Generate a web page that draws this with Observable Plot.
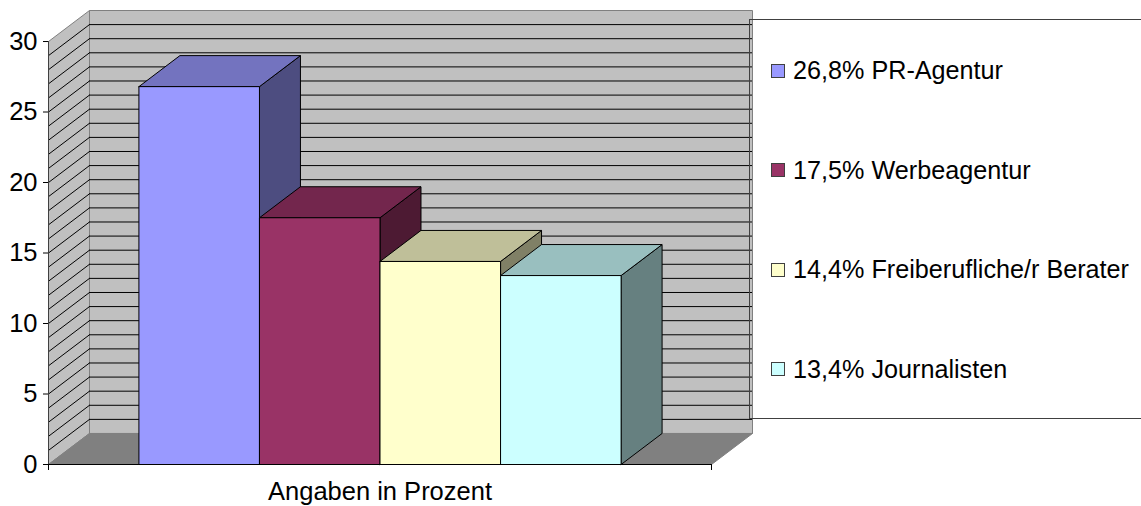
<!DOCTYPE html>
<html>
<head>
<meta charset="utf-8">
<script src="https://cdn.jsdelivr.net/npm/d3@7"></script>
<script src="https://cdn.jsdelivr.net/npm/@observablehq/plot@0.6"></script>
<style>
  html, body { margin: 0; padding: 0; background: #fff; }
  #wrap { position: relative; width: 1141px; height: 506px; overflow: hidden; font-family: "Liberation Sans", Arial, sans-serif; }
  #legend { position: absolute; left: 749px; top: 19px; width: 420px; height: 398px; border: 1px solid #404040; z-index: 2;
            background: linear-gradient(to right, rgba(255,255,255,0) 3px, #fff 3px);
            display: flex; flex-direction: column; justify-content: space-around; box-sizing: content-box; }
  .item { display: flex; align-items: center; font-size: 25.2px; color: #000; padding-left: 21px; height: 30px; margin-top: 2px; }
  .sw { width: 12px; height: 12px; border: 1px solid #404040; margin-right: 8px; flex: none; }
  #chart { position: absolute; left: 0; top: 0; z-index: 1; }
</style>
</head>
<body>
<div id="wrap"><div id="chart"></div><div id="legend"></div></div>
<script>
// ---- data ----
const categories = ["PR-Agentur", "Werbeagentur", "Freiberufliche/r Berater", "Journalisten"];
const values = [26.8, 17.5, 14.4, 13.4];
const colors = ["#9999FF", "#993366", "#FFFFCC", "#CCFFFF"];
const yTicks = [0, 5, 10, 15, 20, 25, 30];
const gridValues = d3.range(1, 30);
const groupLabel = "Angaben in Prozent";

// ---- 3D projection parameters (Excel-like oblique view) ----
const yMax = 30;
const depthX = 0.34;     // depth offset in x units (bar widths)
const depthY = 2.2;      // depth offset in y units
const gap = 0.75;        // half of 150% gap width
const nBars = values.length;
const floorW = nBars + 2 * gap;

function shade(c, k) {
  const r = d3.rgb(c);
  return d3.rgb(r.r * k, r.g * k, r.b * k).formatHex();
}
const polys = [];
function poly(layer, id, pts, fill, stroke) {
  pts.concat([pts[0]]).forEach(([x, y]) => polys.push({layer, id, x, y, fill, stroke}));
}
// walls & floor
poly("wall", "back", [[depthX, depthY], [floorW + depthX, depthY], [floorW + depthX, yMax + depthY], [depthX, yMax + depthY]], "#C0C0C0", "#808080");
poly("wall", "side", [[0, 0], [depthX, depthY], [depthX, yMax + depthY], [0, yMax]], "#C0C0C0", "#808080");
poly("floor", "floor", [[0, 0], [floorW, 0], [floorW + depthX, depthY], [depthX, depthY]], "#808080", "#808080");
// bars
values.forEach((v, i) => {
  const x0 = gap + i, x1 = gap + i + 1, c = colors[i];
  poly("bar", "side" + i, [[x1, 0], [x1 + depthX, depthY], [x1 + depthX, v + depthY], [x1, v]], shade(c, 0.5), "#000");
  poly("bar", "top" + i, [[x0, v], [x1, v], [x1 + depthX, v + depthY], [x0 + depthX, v + depthY]], shade(c, 0.75), "#000");
  poly("bar", "front" + i, [[x0, 0], [x1, 0], [x1, v], [x0, v]], c, "#000");
});

const FONT = 25.5;
const chart = Plot.plot({
  width: 1141, height: 506,
  marginLeft: 48, marginRight: 389, marginTop: 10, marginBottom: 42,
  x: {domain: [0, floorW + depthX], axis: null},
  y: {domain: [0, yMax + depthY], axis: null},
  color: {type: "identity"},
  style: {fontFamily: '"Liberation Sans", Arial, sans-serif', fontSize: FONT + "px", color: "#000", background: "transparent", overflow: "visible"},
  marks: [
    Plot.line(polys.filter(d => d.layer === "wall"), {x: "x", y: "y", z: "id", fill: "fill", stroke: "stroke", strokeWidth: 1}),
    Plot.ruleY(gridValues, {y: v => v + depthY, x1: depthX, x2: floorW + depthX, stroke: "#000", strokeWidth: 1}),
    Plot.link(gridValues, {x1: 0, y1: v => v, x2: depthX, y2: v => v + depthY, stroke: "#000", strokeWidth: 1}),
    Plot.line(polys.filter(d => d.layer === "floor"), {x: "x", y: "y", z: "id", fill: "fill", stroke: "stroke", strokeWidth: 1}),
    Plot.ruleX([0], {y1: 0, y2: yMax, stroke: "#404040", strokeWidth: 1}),
    Plot.ruleY([0], {x1: 0, x2: floorW, stroke: "#000", strokeWidth: 1}),
    Plot.line(polys.filter(d => d.layer === "bar"), {x: "x", y: "y", z: "id", fill: "fill", stroke: "stroke", strokeWidth: 1}),
    Plot.axisY(yTicks, {tickSize: 5, tickPadding: 6, label: null, fontSize: FONT}),
    Plot.axisX([0, floorW], {tickSize: 6, tickFormat: () => "", label: null}),
    Plot.axisX([floorW / 2], {tickSize: 0, tickPadding: 17, tickFormat: () => groupLabel, label: null, fontSize: FONT})
  ]
});
document.getElementById("chart").appendChild(chart);

// legend
const legend = document.getElementById("legend");
categories.forEach((c, i) => {
  const item = document.createElement("div");
  item.className = "item";
  const sw = document.createElement("span");
  sw.className = "sw";
  sw.style.background = colors[i];
  const t = document.createElement("span");
  t.textContent = String(values[i]).replace(".", ",") + "% " + c;
  item.appendChild(sw); item.appendChild(t);
  legend.appendChild(item);
});
</script>
</body>
</html>
